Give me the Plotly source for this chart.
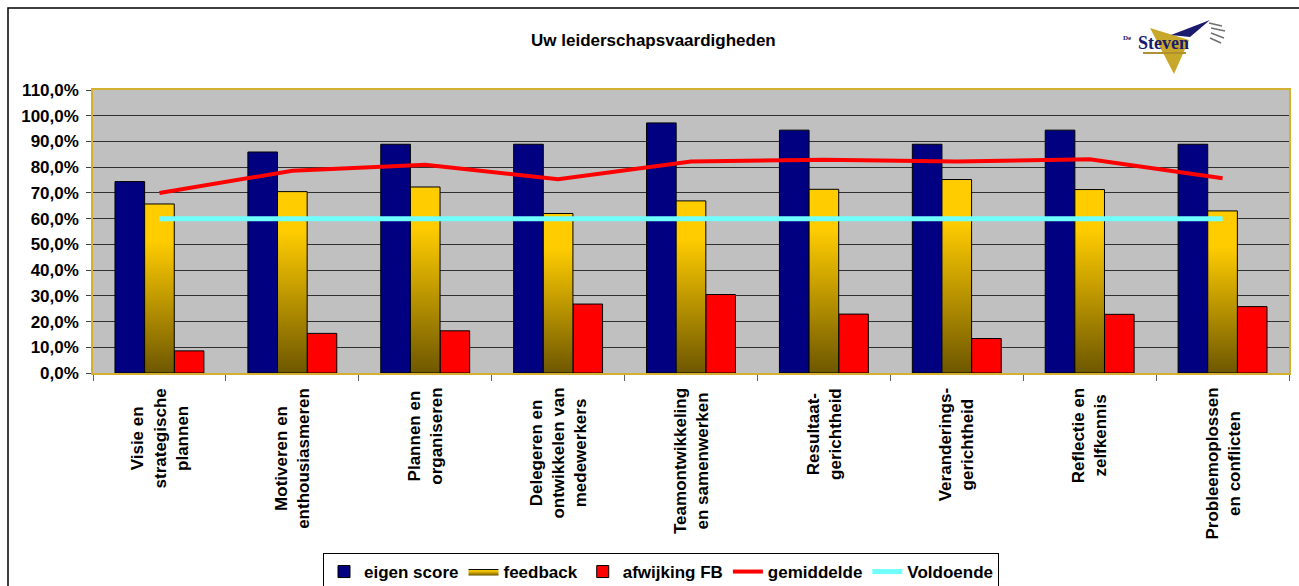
import plotly.graph_objects as go

# ---------------- data ----------------
categories = [
    "Visie en<br>strategische<br>plannen",
    "Motiveren en<br>enthousiasmeren",
    "Plannen en<br>organiseren",
    "Delegeren en<br>ontwikkelen van<br>medewerkers",
    "Teamontwikkeling<br>en samenwerken",
    "Resultaat-<br>gerichtheid",
    "Veranderings-<br>gerichtheid",
    "Reflectie en<br>zelfkennis",
    "Probleemoplossen<br>en conflicten",
]
eigen_score = [74.4, 85.9, 88.9, 88.9, 97.2, 94.4, 88.9, 94.4, 88.9]
feedback = [65.7, 70.5, 72.3, 62.0, 66.9, 71.4, 75.2, 71.3, 63.0]
afwijking_fb = [8.6, 15.4, 16.4, 26.8, 30.5, 22.9, 13.4, 22.8, 25.8]
gemiddelde = [70.0, 78.6, 80.9, 75.3, 82.2, 82.9, 82.2, 83.1, 75.7]
voldoende = [60.0] * 9
y_ticks = list(range(0, 111, 10))
y_ticktext = [f"{v:.1f}".replace(".", ",") + "%" for v in y_ticks]
title_text = "Uw leiderschapsvaardigheden"
series_names = ["eigen score", "feedback", "afwijking FB", "gemiddelde", "Voldoende"]

# ---------------- layout constants ----------------
W, H = 1299, 586
ML, MR, MT, MB = 93, 10, 90, 213
PW, PH = W - ML - MR, H - MT - MB
FONT = "Arial, Liberation Sans, sans-serif"

def px(x):
    return (x - ML) / PW

def py(y):
    return (H - MB - y) / PH

idx = list(range(len(categories)))
gap = 0.331
bw = (1 - gap) / 3

fig = go.Figure()

fig.add_trace(go.Bar(
    x=idx, y=eigen_score, name=series_names[0], width=bw, offset=-1.5 * bw,
    marker=dict(color="#000080", line=dict(color="#000000", width=1)),
))

for i, v in zip(idx, feedback):
    x0, x1 = i - 0.5 * bw, i + 0.5 * bw
    fig.add_trace(go.Scatter(
        x=[x0, x0, x1, x1, x0], y=[0, v, v, 0, 0],
        mode="lines", fill="toself", name=series_names[1],
        legendgroup="fb", showlegend=(i == 0),
        line=dict(color="#000000", width=1),
        fillcolor="#D4A800",
        fillgradient=dict(type="vertical", start=0, stop=v,
                          colorscale=[[0, "#6E5700"], [0.78, "#FFCC00"], [1, "#FFCC00"]]),
        hoverinfo="skip",
    ))

fig.add_trace(go.Bar(
    x=idx, y=afwijking_fb, name=series_names[2], width=bw, offset=0.5 * bw,
    marker=dict(color="#FF0000", line=dict(color="#000000", width=1)),
))

fig.add_trace(go.Scatter(
    x=idx, y=gemiddelde, name=series_names[3], mode="lines",
    line=dict(color="#FF0000", width=4),
))
fig.add_trace(go.Scatter(
    x=idx, y=voldoende, name=series_names[4], mode="lines",
    line=dict(color="#70FFFF", width=5),
))

# category labels (centered multi-line, rotated)
annotations = []
for i, c in zip(idx, categories):
    annotations.append(dict(
        x=i, xref="x", y=py(386), yref="paper", text=c, textangle=-90,
        showarrow=False, xanchor="center", yanchor="top", align="center",
        font=dict(family=FONT, size=17, color="#000000", weight="bold"),
    ))

# logo text
annotations.append(dict(x=px(1163), y=py(43), xref="paper", yref="paper", text="Steven",
                        showarrow=False, xanchor="center", yanchor="middle",
                        font=dict(family="Liberation Serif, serif", size=18,
                                  color="#1A1A6E", weight="bold")))
annotations.append(dict(x=px(1133), y=py(38), xref="paper", yref="paper", text="De",
                        showarrow=False, xanchor="right", yanchor="middle",
                        font=dict(family="Liberation Serif, serif", size=7,
                                  color="#1A1A6E", weight="bold")))

shapes = [
    # outer chart border
    dict(type="rect", xref="paper", yref="paper", x0=px(8), x1=px(1310), y0=py(620), y1=py(8),
         line=dict(color="#000000", width=1.5), layer="below"),
    # logo
    dict(type="path", xref="paper", yref="paper",
         path=f"M{px(1150)},{py(28)} L{px(1189)},{py(40)} L{px(1174)},{py(74)} Z",
         fillcolor="#C8A828", line=dict(width=0)),
    dict(type="path", xref="paper", yref="paper",
         path=f"M{px(1171)},{py(35)} L{px(1210)},{py(20)} L{px(1190)},{py(37)} Z",
         fillcolor="#1A1A6E", line=dict(width=0)),
]
for (a, b, c, d) in [(1209, 23, 1222, 26), (1211, 28, 1225, 31), (1211, 33, 1224, 38), (1210, 38, 1221, 43)]:
    shapes.append(dict(type="line", xref="paper", yref="paper", x0=px(a), y0=py(b), x1=px(c), y1=py(d),
                       line=dict(color="#707070", width=1.5)))
shapes.append(dict(type="line", xref="paper", yref="paper", x0=px(1143), y0=py(53), x1=px(1186), y1=py(53),
                   line=dict(color="#B09030", width=2)))

fig.update_layout(
    width=W, height=H,
    margin=dict(l=ML, r=MR, t=MT, b=MB, autoexpand=False),
    paper_bgcolor="#FFFFFF",
    plot_bgcolor="#C0C0C0",
    separators=",.",
    barmode="overlay",
    font=dict(family=FONT, size=17, color="#000000"),
    title=dict(text=title_text, x=0.503, xref="container", y=1 - 40 / H, yref="container",
               xanchor="center", yanchor="middle",
               font=dict(family=FONT, size=17, color="#000000", weight="bold")),
    xaxis=dict(range=[-0.5, len(categories) - 0.5], tick0=-0.5, dtick=1, tickmode="linear",
               showticklabels=False, ticks="outside", ticklen=6, tickcolor="#606060",
               showgrid=False, zeroline=False, showline=True, mirror=True,
               linecolor="#D4B030", linewidth=1.5, fixedrange=True),
    yaxis=dict(range=[0, 110], tickmode="array", tickvals=y_ticks, ticktext=y_ticktext,
               ticks="outside", ticklen=5, tickcolor="#404040", ticklabelstandoff=4,
               tickfont=dict(family=FONT, size=17, color="#000000", weight="bold"),
               showgrid=True, gridcolor="#303030", gridwidth=1, zeroline=False,
               showline=True, mirror=True, linecolor="#D4B030", linewidth=1.5),
    legend=dict(orientation="h", x=px(323), y=py(553), xanchor="left", yanchor="top",
                bgcolor="#FFFFFF", bordercolor="#000000", borderwidth=1,
                font=dict(family=FONT, size=17, color="#000000", weight="bold"),
                traceorder="normal", itemwidth=30, tracegroupgap=0),
    annotations=annotations,
    shapes=shapes,
    showlegend=True,
)

fig.write_html("out.html")
